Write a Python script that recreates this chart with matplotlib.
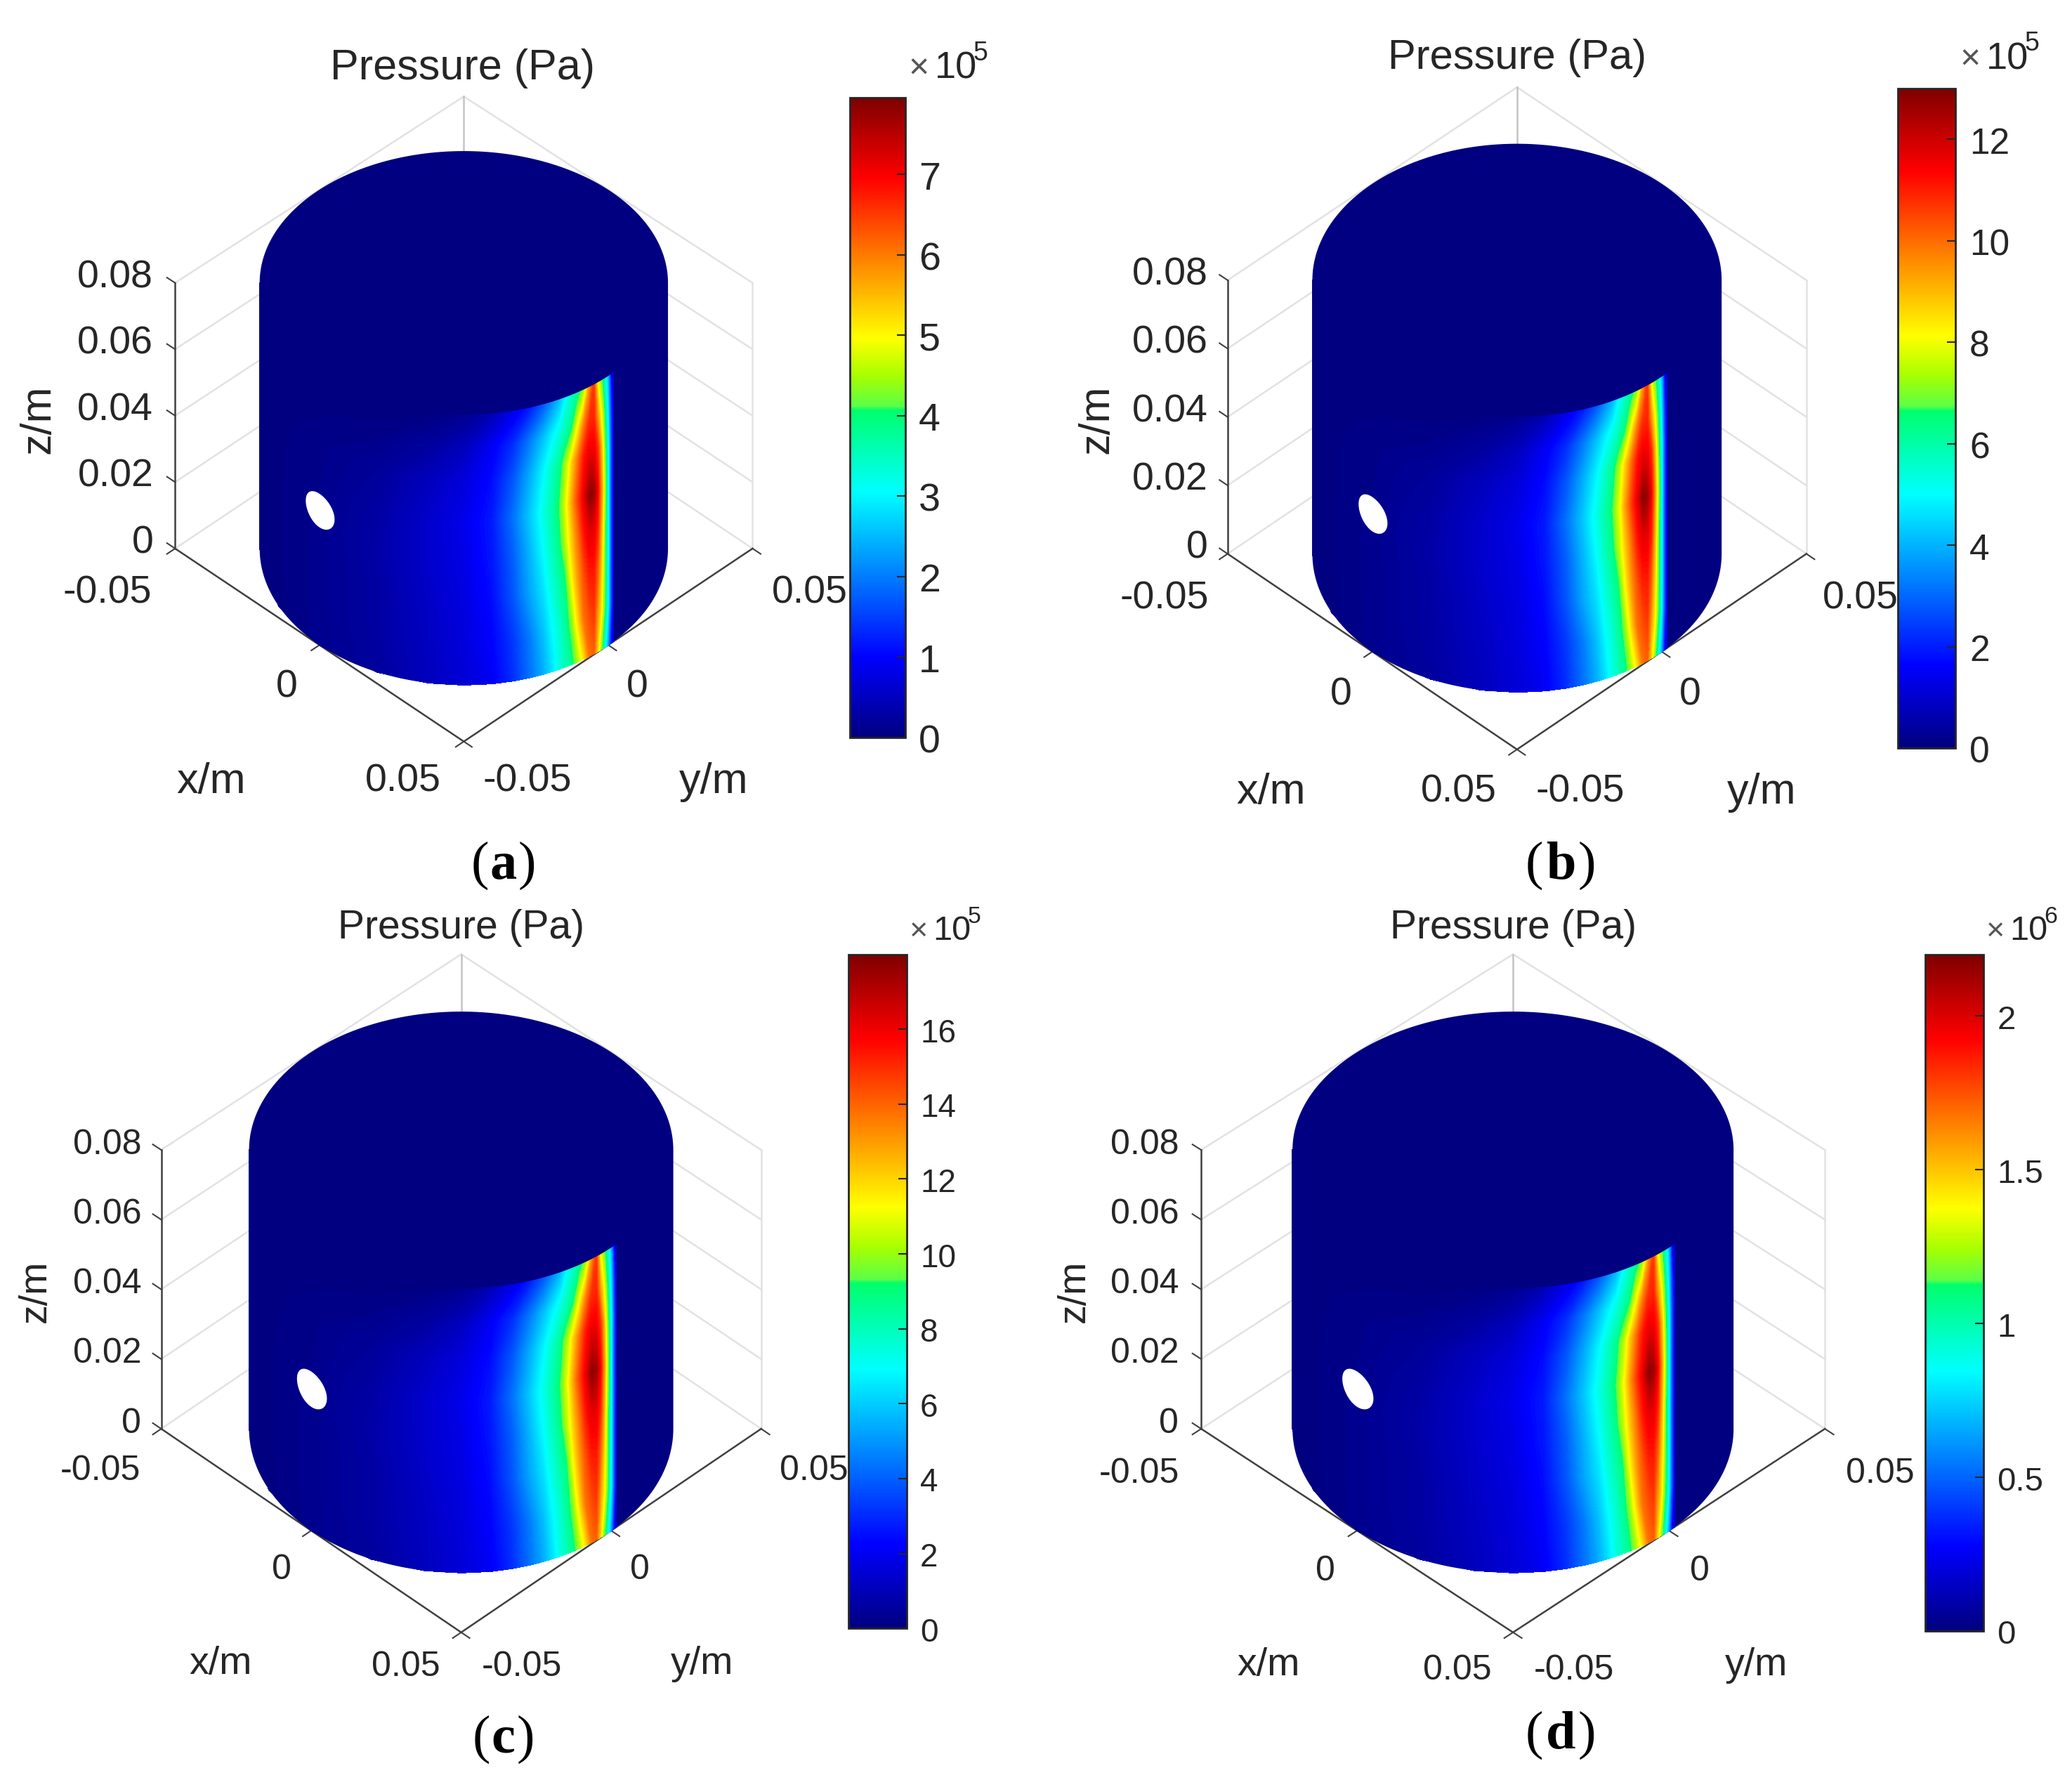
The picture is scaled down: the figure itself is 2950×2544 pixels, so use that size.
"""Four pressure fields on a cylinder wall, with colorbars, MATLAB look."""
import matplotlib
matplotlib.use("Agg")
import matplotlib.pyplot as plt
import numpy as np
from matplotlib.cm import ScalarMappable
from matplotlib.colors import LinearSegmentedColormap, Normalize
from matplotlib.transforms import ScaledTranslation

plt.rcParams["font.family"] = ["Liberation Sans", "DejaVu Sans"]

# --- data ---------------------------------------------------------------
# wall height, and angle round the wall measured from the front (degrees)
z_rows = [0.0, 0.012, 0.025, 0.037, 0.048, 0.06, 0.07, 0.08]
theta_cols = [-90, -65, -45, -25, -10, 0, 8, 14, 19, 23, 26, 28, 30, 32, 34, 36,
              38, 39.5, 41, 42.5, 44, 45, 46, 47]

# pressure as a fraction of the colorbar top
wall_0 = [0, .003, .015, .03, .06, .085, .115, .17, .24, .30, .36, .41, .445, .485, .56, .65, .76, .78, .65, .52, .375, .27, .125, .09]
wall_1 = [0, .005, .015, .035, .065, .09, .125, .18, .25, .32, .385, .425, .47, .54, .655, .76, .80, .82, .72, .62, .47, .36, .20, .10]
wall_2 = [0, .005, .015, .035, .07, .095, .135, .21, .295, .355, .42, .46, .50, .625, .72, .795, .85, .855, .78, .65, .48, .375, .20, .10]
wall_3 = [0, .005, .015, .04, .075, .10, .145, .22, .31, .385, .45, .49, .575, .675, .76, .85, .90, .895, .84, .68, .49, .375, .20, .10]
wall_4 = [0, .005, .012, .035, .075, .105, .15, .24, .33, .405, .465, .515, .605, .715, .81, .89, .985, .97, .88, .71, .51, .375, .20, .10]
wall_5 = [0, .003, .01, .025, .06, .09, .135, .21, .30, .375, .44, .48, .56, .665, .76, .85, .895, .89, .83, .67, .49, .375, .20, .10]
wall_6 = [0, .001, .005, .01, .03, .06, .115, .17, .25, .32, .375, .41, .45, .50, .62, .74, .83, .84, .72, .60, .45, .34, .18, .10]
wall_7 = [0, 0, 0, .001, .003, .015, .05, .10, .15, .21, .27, .31, .38, .43, .475, .55, .72, .82, .62, .52, .40, .30, .125, .09]
wall_field = [wall_0, wall_1, wall_2, wall_3, wall_4, wall_5, wall_6, wall_7]

cbar_tops = [7.95, 13.0, 18.0, 2.2]
cbar_ticks = [
    [0, 1, 2, 3, 4, 5, 6, 7],
    [0, 2, 4, 6, 8, 10, 12],
    [0, 2, 4, 6, 8, 10, 12, 14, 16],
    [0, 0.5, 1, 1.5, 2],
]
cbar_tick_labels = [
    ["0", "1", "2", "3", "4", "5", "6", "7"],
    ["0", "2", "4", "6", "8", "10", "12"],
    ["0", "2", "4", "6", "8", "10", "12", "14", "16"],
    ["0", "0.5", "1", "1.5", "2"],
]
exponents = ["5", "5", "5", "6"]
panel_names = ["a", "b", "c", "d"]
z_ticks = [0, 0.02, 0.04, 0.06, 0.08]
z_tick_labels = ["0", "0.02", "0.04", "0.06", "0.08"]
xy_ticks = [-0.05, 0, 0.05]

# --- layout, in units of a 1568 x 1352 page -----------------------------
W, H = 1568, 1352
panels = [
    dict(cx=351, cy=415, hw=218.5, hh=146, hh_top=141, zh=201, cbar=(643, 74, 685, 558), fs=44, tfs=40, lfs=44, cfs=40,
         title=(350, 50), xlab=(160, 590), ylab=(540, 590), zlab=(29, 317), x05=(305, 589), ym05=(399, 589),
         x0=(217, 518), y0=(482, 518), y05=(613, 447), xm05=(81, 447), zright=116,
         exp=(687.5, 59.5), tag=(381, 655), tag_gap=11),
    dict(cx=1148, cy=419, hw=219, hh=148, hh_top=146, zh=207, cbar=(1436, 67, 1480, 566), fs=43, tfs=40, lfs=44, cfs=37,
         title=(1148, 42), xlab=(962, 598), ylab=(1333, 598), zlab=(830, 317), x05=(1104, 597), ym05=(1196, 597),
         x0=(1015, 524), y0=(1279, 524), y05=(1408, 451), xm05=(881, 451), zright=914,
         exp=(1483, 52.5), tag=(1181, 655), tag_gap=13),
    dict(cx=349, cy=1081, hw=227, hh=154, hh_top=148, zh=211, cbar=(642, 722, 686, 1232), fs=41, tfs=36, lfs=40, cfs=33,
         title=(349, 700), xlab=(167, 1257), ylab=(531, 1257), zlab=(27, 977), x05=(307, 1259), ym05=(395, 1259),
         x0=(213, 1186), y0=(484, 1186), y05=(616, 1111), xm05=(76, 1111), zright=107,
         exp=(688, 711), tag=(381, 1316), tag_gap=10),
    dict(cx=1145, cy=1081, hw=236, hh=154, hh_top=148, zh=211, cbar=(1457, 722, 1501, 1234), fs=41, tfs=36, lfs=40, cfs=34,
         title=(1145, 700), xlab=(960, 1258), ylab=(1329, 1258), zlab=(813, 977), x05=(1103, 1262), ym05=(1191, 1262),
         x0=(1003, 1187), y0=(1286, 1187), y05=(1423, 1113), xm05=(862, 1113), zright=892,
         exp=(1503, 711), tag=(1181, 1313), tag_gap=13),
]

INK = "#262626"
AXIS = "#404040"
GRID = "#e2e2e2"
BACK_EDGE = "#c4c4c4"
R = 0.05
TEXT_DROP = 2  # page units, Liberation sits a little high with va=center

# jet as it shows in the reference colorbars, with the kink just above green
jet = LinearSegmentedColormap.from_list(
    "ref_jet",
    [(0, (0, 0, .5)), (.125, (0, 0, 1)), (.384, (0, 1, 1)), (.512, (0, 1, .42)), (.518, (.36, 1, .28)),
     (.566, (.66, 1, 0)), (.625, (1, 1, 0)), (.875, (1, 0, 0)), (1, (.5, 0, 0))],
    N=512,
)
NAVY = jet(0.0)


def project(p, x, y, z):
    x, y, z = np.asarray(x), np.asarray(y), np.asarray(z)
    # the floor diamond is a bit deeper than the top one
    hh = p["hh"] + (p["hh_top"] - p["hh"]) * z / 0.08
    sx = p["cx"] + p["hw"] * (x + y) / 0.1
    sy = p["cy"] + hh * (x - y) / 0.1 - p["zh"] * z / 0.08
    return sx, sy


def on_wall(p, theta_deg, z):
    phi = np.radians(np.asarray(theta_deg, dtype=float) - 45)
    return project(p, R * np.cos(phi), R * np.sin(phi), z)


def draw_box(ax, p):
    # back walls first, the cylinder covers most of them
    for z in z_ticks:
        xs, ys = project(p, [-R, -R, R], [-R, R, R], [z, z, z])
        ax.plot(xs, ys, color=GRID, lw=1.8, zorder=1)
    xs, ys = project(p, [-R, -R], [R, R], [0, 0.08])
    ax.plot(xs, ys, color=BACK_EDGE, lw=1.8, zorder=1)
    xs, ys = project(p, [R, R], [R, R], [0, 0.08])
    ax.plot(xs, ys, color=GRID, lw=1.8, zorder=1)

    xs, ys = project(p, [-R, R, R], [-R, -R, R], [0, 0, 0])
    ax.plot(xs, ys, color=AXIS, lw=1.8, zorder=1.5, solid_joinstyle="miter")
    xs, ys = project(p, [-R, -R], [-R, -R], [0, 0.08])
    ax.plot(xs, ys, color=AXIS, lw=1.8, zorder=1.5)
    for t in xy_ticks:
        xs, ys = project(p, [t, t], [-R, -R - 0.0028], [0, 0])
        ax.plot(xs, ys, color=AXIS, lw=1.5, zorder=1.5)
        xs, ys = project(p, [R, R + 0.0028], [t, t], [0, 0])
        ax.plot(xs, ys, color=AXIS, lw=1.5, zorder=1.5)
    for z in z_ticks:
        xs, ys = project(p, [-R, -R - 0.0028], [-R, -R], [z, z])
        ax.plot(xs, ys, color=AXIS, lw=1.5, zorder=1.5)


def draw_cylinder(ax, p):
    # whole silhouette in one polygon so the navy has no seam
    bx, by = on_wall(p, np.linspace(-90, 90, 361), 0.0)
    tx, ty = on_wall(p, np.linspace(90, 270, 361), 0.08)
    ax.fill(np.r_[bx, tx], np.r_[by, ty], color=NAVY, lw=0, zorder=2)

    tg, zg = np.meshgrid(theta_cols, z_rows)
    gx, gy = on_wall(p, tg, zg)
    cs = ax.contourf(gx, gy, np.array(wall_field), levels=np.linspace(0, 1, 161),
                     cmap=jet, vmin=0, vmax=1, zorder=3)
    cs.set_edgecolor("face")
    cs.set_linewidth(0.5)

    # piece of the lid that trims the top of the coloured wall
    ax_, ay_ = on_wall(p, np.linspace(-90, 49, 280), 0.08)
    mx, my = project(p, 0, 0, 0.08)
    ax.fill(np.r_[ax_, mx], np.r_[ay_, my], color=NAVY, lw=0, zorder=4)

    # inlet hole at x = 0, y = -0.05, z = 0.04
    a = np.linspace(0, 2 * np.pi, 90)
    hx, hy = on_wall(p, -45 + np.degrees(0.1 * np.cos(a)), 0.04 + 0.005 * np.sin(a))
    ax.fill(hx, hy, color="white", lw=0, zorder=5)


def draw_text(ax, p):
    kw = dict(color=INK, ha="center", va="center")
    x, y = p["title"]
    ax.text(x, y + TEXT_DROP, "Pressure (Pa)", fontsize=p["fs"], **kw)
    x, y = p["xlab"]
    ax.text(x, y + TEXT_DROP, "x/m", fontsize=p["lfs"], **kw)
    x, y = p["ylab"]
    ax.text(x, y + TEXT_DROP, "y/m", fontsize=p["lfs"], **kw)
    ax.text(*p["zlab"], "z/m", fontsize=p["lfs"], rotation=90, **kw)
    for key, label in [("x05", "0.05"), ("ym05", "-0.05"), ("x0", "0"), ("y0", "0"), ("y05", "0.05"), ("xm05", "-0.05")]:
        x, y = p[key]
        ax.text(x, y + TEXT_DROP, label, fontsize=p["tfs"], **kw)
    for z, label in zip(z_ticks, z_tick_labels):
        sx, sy = project(p, -R, -R, z)
        ax.text(p["zright"], sy - 6 + TEXT_DROP, label, fontsize=p["tfs"], color=INK, ha="right", va="center")


def draw_tag(ax, p, name):
    x, y = p["tag"]
    gap = p["tag_gap"]
    serif = ["Liberation Serif", "DejaVu Serif"]
    ax.text(x - gap, y, "(", fontsize=55, family=serif, color="black", ha="right", va="center")
    ax.text(x, y, name, fontsize=55, family=serif, weight="bold", color="black", ha="center", va="center")
    ax.text(x + gap, y, ")", fontsize=55, family=serif, color="black", ha="left", va="center")


def draw_colorbar(fig, ax, p, top, ticks, labels, exponent):
    left, up, right, low = p["cbar"]
    cax = fig.add_axes([left / W, 1 - low / H, (right - left) / W, (low - up) / H])
    sm = ScalarMappable(norm=Normalize(0, top), cmap=jet)
    cb = fig.colorbar(sm, cax=cax)
    cb.set_ticks(ticks, labels=labels)
    cb.ax.tick_params(direction="in", length=9, width=1.5, color=INK, labelcolor=INK,
                      labelsize=p["cfs"], pad=14)
    cb.ax.minorticks_off()
    cb.outline.set_edgecolor(INK)
    cb.outline.set_linewidth(2)
    drop = ScaledTranslation(0, -1.5 / 100, fig.dpi_scale_trans)
    for tick in cb.ax.yaxis.get_major_ticks():
        tick.label2.set_transform(tick.label2.get_transform() + drop)

    x, y = p["exp"]
    scale = p["tfs"] / 40
    ax.text(x, y, "\u00d7", fontsize=36 * scale, color="#555555", ha="left", va="baseline")
    ax.text(x + 20 * scale, y, "10", fontsize=39 * scale, color=INK, ha="left", va="baseline")
    ax.text(x + 49 * scale, y - 14 * scale, exponent, fontsize=27 * scale, color=INK, ha="left", va="baseline")


fig = plt.figure(figsize=(29.5, 25.44), dpi=100)
ax = fig.add_axes([0, 0, 1, 1])
ax.set_xlim(0, W)
ax.set_ylim(H, 0)
ax.axis("off")

for i, p in enumerate(panels):
    draw_box(ax, p)
    draw_cylinder(ax, p)
    draw_text(ax, p)
    draw_tag(ax, p, panel_names[i])
    draw_colorbar(fig, ax, p, cbar_tops[i], cbar_ticks[i], cbar_tick_labels[i], exponents[i])

fig.savefig("out.png", dpi=100)
